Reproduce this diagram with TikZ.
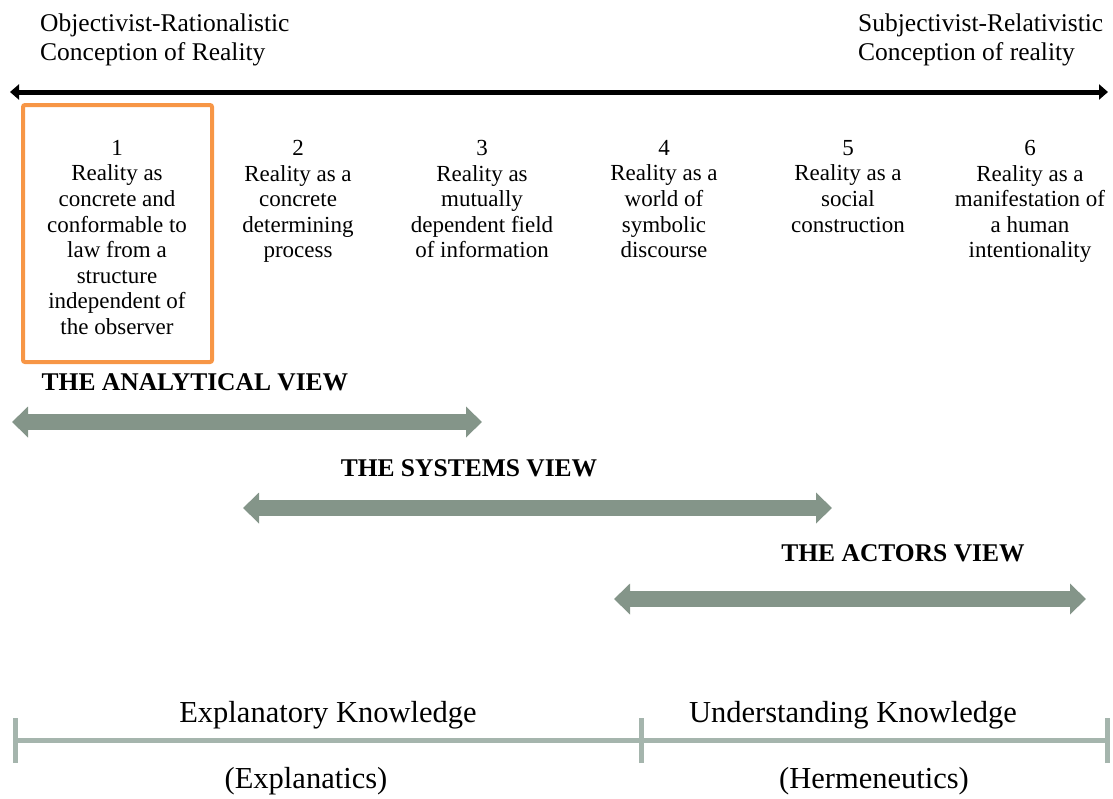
\documentclass[tikz,border=0pt]{standalone}
\usepackage{fontspec}
\setmainfont{Liberation Serif}
\usetikzlibrary{arrows.meta}
\definecolor{boxorange}{HTML}{F79646}
\definecolor{viewgrey}{HTML}{849589}
\definecolor{barline}{HTML}{A5B5AD}

\begin{document}
\begin{tikzpicture}
  [x=1pt,y=-1pt,
   every node/.style={inner sep=0pt,align=center},
   heading/.style={anchor=north west,align=left,font=\fontsize{25.5}{29}\selectfont},
   reality/.style={anchor=north,font=\fontsize{23}{25.6}\selectfont},
   viewlabel/.style={font=\fontsize{25.5}{28}\selectfont\bfseries},
   viewarrow/.style={line width=16pt,viewgrey,
     {Triangle[width=30pt,length=16pt]}-{Triangle[width=30pt,length=16pt]}},
   knowledge/.style={font=\fontsize{30.5}{34}\selectfont}]
  \useasboundingbox (0,0) rectangle (1113,798);

  % extremes of the scale
  \node[heading] (objective) at (40,14) {Objectivist-Rationalistic\\Conception of Reality};
  \node[heading] (subjective) at (858,14) {Subjectivist-Relativistic\\Conception of reality};
  \coordinate (scaleL) at (10,92);
  \coordinate (scaleR) at (1108,92);
  \draw[line width=5pt,{Triangle[width=15pt,length=9pt]}-{Triangle[width=15pt,length=9pt]}] (scaleL) -- (scaleR);

  % the six conceptions of reality
  \node[reality] (real1) at (117,140) {1\\Reality as\\concrete and\\conformable to\\law from a\\structure\\independent of\\the observer};
  \node[reality] (real2) at (298,140) {2\\Reality as a\\concrete\\determining\\process};
  \node[reality] (real3) at (482,140) {3\\Reality as\\mutually\\dependent field\\of information};
  \node[reality] (real4) at (664,140) {4\\Reality as a\\world of\\symbolic\\discourse};
  \node[reality] (real5) at (848,140) {5\\Reality as a\\social\\construction};
  \node[reality] (real6) at (1030,140) {6\\Reality as a\\manifestation of\\a human\\intentionality};
  \draw[boxorange,line width=4pt,rounded corners=2pt] (23,105) rectangle (212,362);

  % the three views
  \node[viewlabel] (analytical) at (195,382) {THE ANALYTICAL VIEW};
  \node[viewlabel] (systems) at (469,468) {THE SYSTEMS VIEW};
  \node[viewlabel] (actors) at (903,553) {THE ACTORS VIEW};
  \coordinate (anaL) at (12,422);
  \coordinate (anaR) at (482,422);
  \coordinate (sysL) at (243,508);
  \coordinate (sysR) at (832,508);
  \coordinate (actL) at (614,599);
  \coordinate (actR) at (1086,599);
  \foreach \from/\to in {anaL/anaR, sysL/sysR, actL/actR}
    \draw[viewarrow] (\from) -- (\to);

  % kinds of knowledge
  \coordinate (kL) at (15,740);
  \coordinate (kM) at (641,740);
  \coordinate (kR) at (1107,740);
  \draw[barline,line width=5pt] (kL) -- (kR);
  \foreach \t in {kL, kM, kR}
    \draw[barline,line width=5pt] ([yshift=-23pt]\t) -- ([yshift=22pt]\t);
  \node[knowledge] (explanatory) at (328,715) {Explanatory Knowledge};
  \node[knowledge] (explanatics) at (306,781) {(Explanatics)};
  \node[knowledge] (understanding) at (853,715) {Understanding Knowledge};
  \node[knowledge] (hermeneutics) at (874,781) {(Hermeneutics)};

\end{tikzpicture}
\end{document}
